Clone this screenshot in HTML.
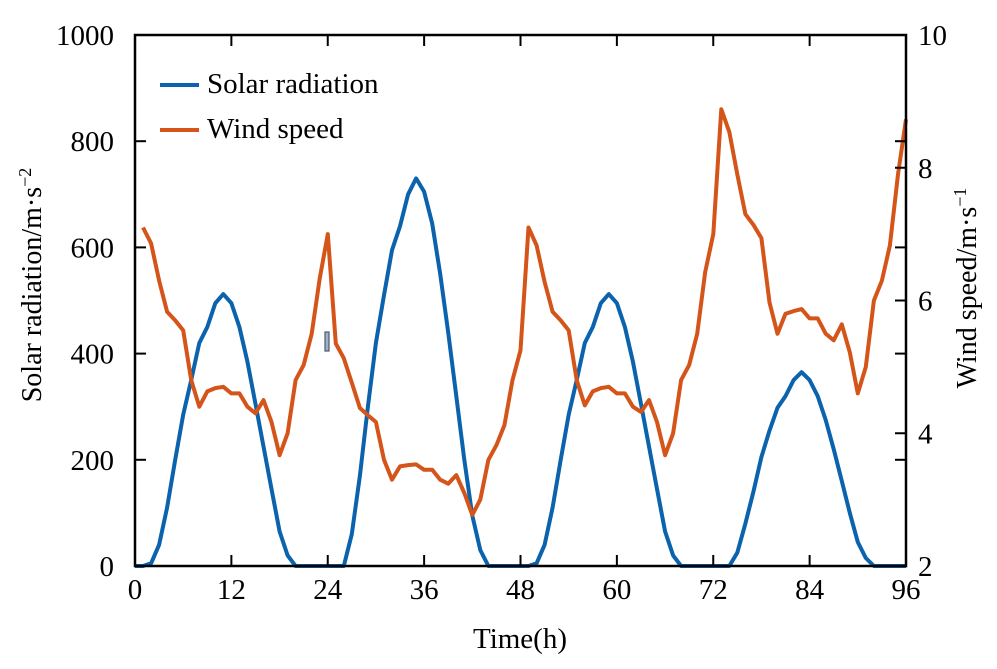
<!DOCTYPE html>
<html><head><meta charset="utf-8"><style>
html,body{margin:0;padding:0;background:#fff;}
svg{display:block;font-family:"Liberation Serif",serif;}
</style></head><body>
<svg id="chart" width="997" height="669" viewBox="0 0 997 669" xmlns="http://www.w3.org/2000/svg">
<g id="plot"></g>
<g id="axes"></g>
<rect x="325" y="332" width="4" height="19" fill="#9fb3c8" stroke="#4a5a6a" stroke-width="1.2"/>
<g>
<line x1="160" y1="85" x2="199" y2="85" stroke="#0b62ad" stroke-width="4"/>
<text x="207" y="93" font-size="29">Solar radiation</text>
<line x1="160" y1="130" x2="199" y2="130" stroke="#d4541a" stroke-width="4"/>
<text x="207" y="138" font-size="29">Wind speed</text>
</g>
<text x="520" y="648" font-size="29" text-anchor="middle">Time(h)</text>
<text transform="translate(41,285) rotate(-90)" font-size="28" text-anchor="middle">Solar radiation/m·s<tspan dy="-10" font-size="18">−2</tspan></text>
<text transform="translate(976,288) rotate(-90)" font-size="28" text-anchor="middle">Wind speed/m·s<tspan dy="-10" font-size="18">−1</tspan></text>
</svg>
<script>
const hours = Array.from({length:97},(_,i)=>i);
const solar = [0,0,5,40,110,200,285,350,420,450,495,512,495,450,385,305,225,145,65,20,0,0,0,0,0,0,0,60,170,300,420,510,595,640,700,730,705,645,550,440,320,200,95,30,0,0,0,0,0,0,5,40,110,200,285,350,420,450,495,512,495,450,385,305,225,145,65,20,0,0,0,0,0,0,0,25,80,140,205,255,298,320,350,365,350,320,275,220,160,100,45,15,0,0,0,0,0];
const wind = [null,7.1,6.86,6.3,5.83,5.7,5.55,4.8,4.4,4.63,4.68,4.7,4.6,4.6,4.4,4.3,4.5,4.17,3.67,4.0,4.8,5.03,5.5,6.33,7.0,5.35,5.13,4.76,4.38,4.27,4.17,3.6,3.3,3.5,3.52,3.53,3.45,3.45,3.3,3.24,3.37,3.1,2.77,3.0,3.6,3.82,4.12,4.8,5.25,7.1,6.83,6.28,5.83,5.7,5.55,4.8,4.42,4.63,4.68,4.7,4.6,4.6,4.4,4.32,4.5,4.17,3.67,4.0,4.8,5.03,5.5,6.43,7.0,8.88,8.54,7.9,7.3,7.14,6.94,5.97,5.5,5.8,5.84,5.87,5.73,5.73,5.5,5.4,5.64,5.22,4.6,5.0,6.0,6.3,6.83,7.9,8.73];
const xTicks = [0,12,24,36,48,60,72,84,96];
const leftTicks = [0,200,400,600,800,1000];
const rightTicks = [2,4,6,8,10];
const L=135,R=906,T=35,B=566;
const xs=t=>L+(t/96)*(R-L);
const yl=v=>B-(v/1000)*(B-T);
const yr=v=>B-((v-2)/8)*(B-T);
const NS="http://www.w3.org/2000/svg";
const plot=document.getElementById('plot'), axes=document.getElementById('axes');
function mk(tag,attrs,parent){const e=document.createElementNS(NS,tag);for(const k in attrs)e.setAttribute(k,attrs[k]);parent.appendChild(e);return e;}
let d=hours.map((t,i)=>(i?'L':'M')+xs(t).toFixed(1)+','+yl(solar[i]).toFixed(1)).join('');
const sp=mk('path',{d:d,fill:'none',stroke:'#0b62ad','stroke-width':4,'stroke-linejoin':'round'},plot);


let d2='';let first=true;
hours.forEach((t,i)=>{if(wind[i]==null)return;d2+=(first?'M':'L')+xs(t).toFixed(1)+','+yr(wind[i]).toFixed(1);first=false;});
const wp=mk('path',{d:d2,fill:'none',stroke:'#d4541a','stroke-width':4,'stroke-linejoin':'round'},plot);


const fr=mk('rect',{x:L,y:T,width:R-L,height:B-T,fill:'none',stroke:'#000','stroke-width':2.5},axes);


xTicks.forEach(t=>{
 const x=xs(t);
 mk('line',{x1:x,y1:B,x2:x,y2:B-11,stroke:'#000','stroke-width':2},axes);
 mk('line',{x1:x,y1:T,x2:x,y2:T+11,stroke:'#000','stroke-width':2},axes);
 const tx=mk('text',{x:x,y:B+33,'font-size':29,'text-anchor':'middle'},axes);
 tx.textContent=t;
 
 
});
leftTicks.forEach(v=>{
 const y=yl(v);
 mk('line',{x1:L,y1:y,x2:L+11,y2:y,stroke:'#000','stroke-width':2},axes);
 mk('line',{x1:R,y1:y,x2:R-11,y2:y,stroke:'#000','stroke-width':2},axes);
 const tx=mk('text',{x:L-21,y:y+10,'font-size':29,'text-anchor':'end'},axes);
 tx.textContent=v;
 
 
});
rightTicks.forEach(v=>{
 const y=yr(v);
 mk('line',{x1:R,y1:y,x2:R-11,y2:y,stroke:'#000','stroke-width':2},axes);
 const tx=mk('text',{x:R+12,y:y+10,'font-size':29,'text-anchor':'start'},axes);
 tx.textContent=v;
 
 
});
</script>
</body></html>
